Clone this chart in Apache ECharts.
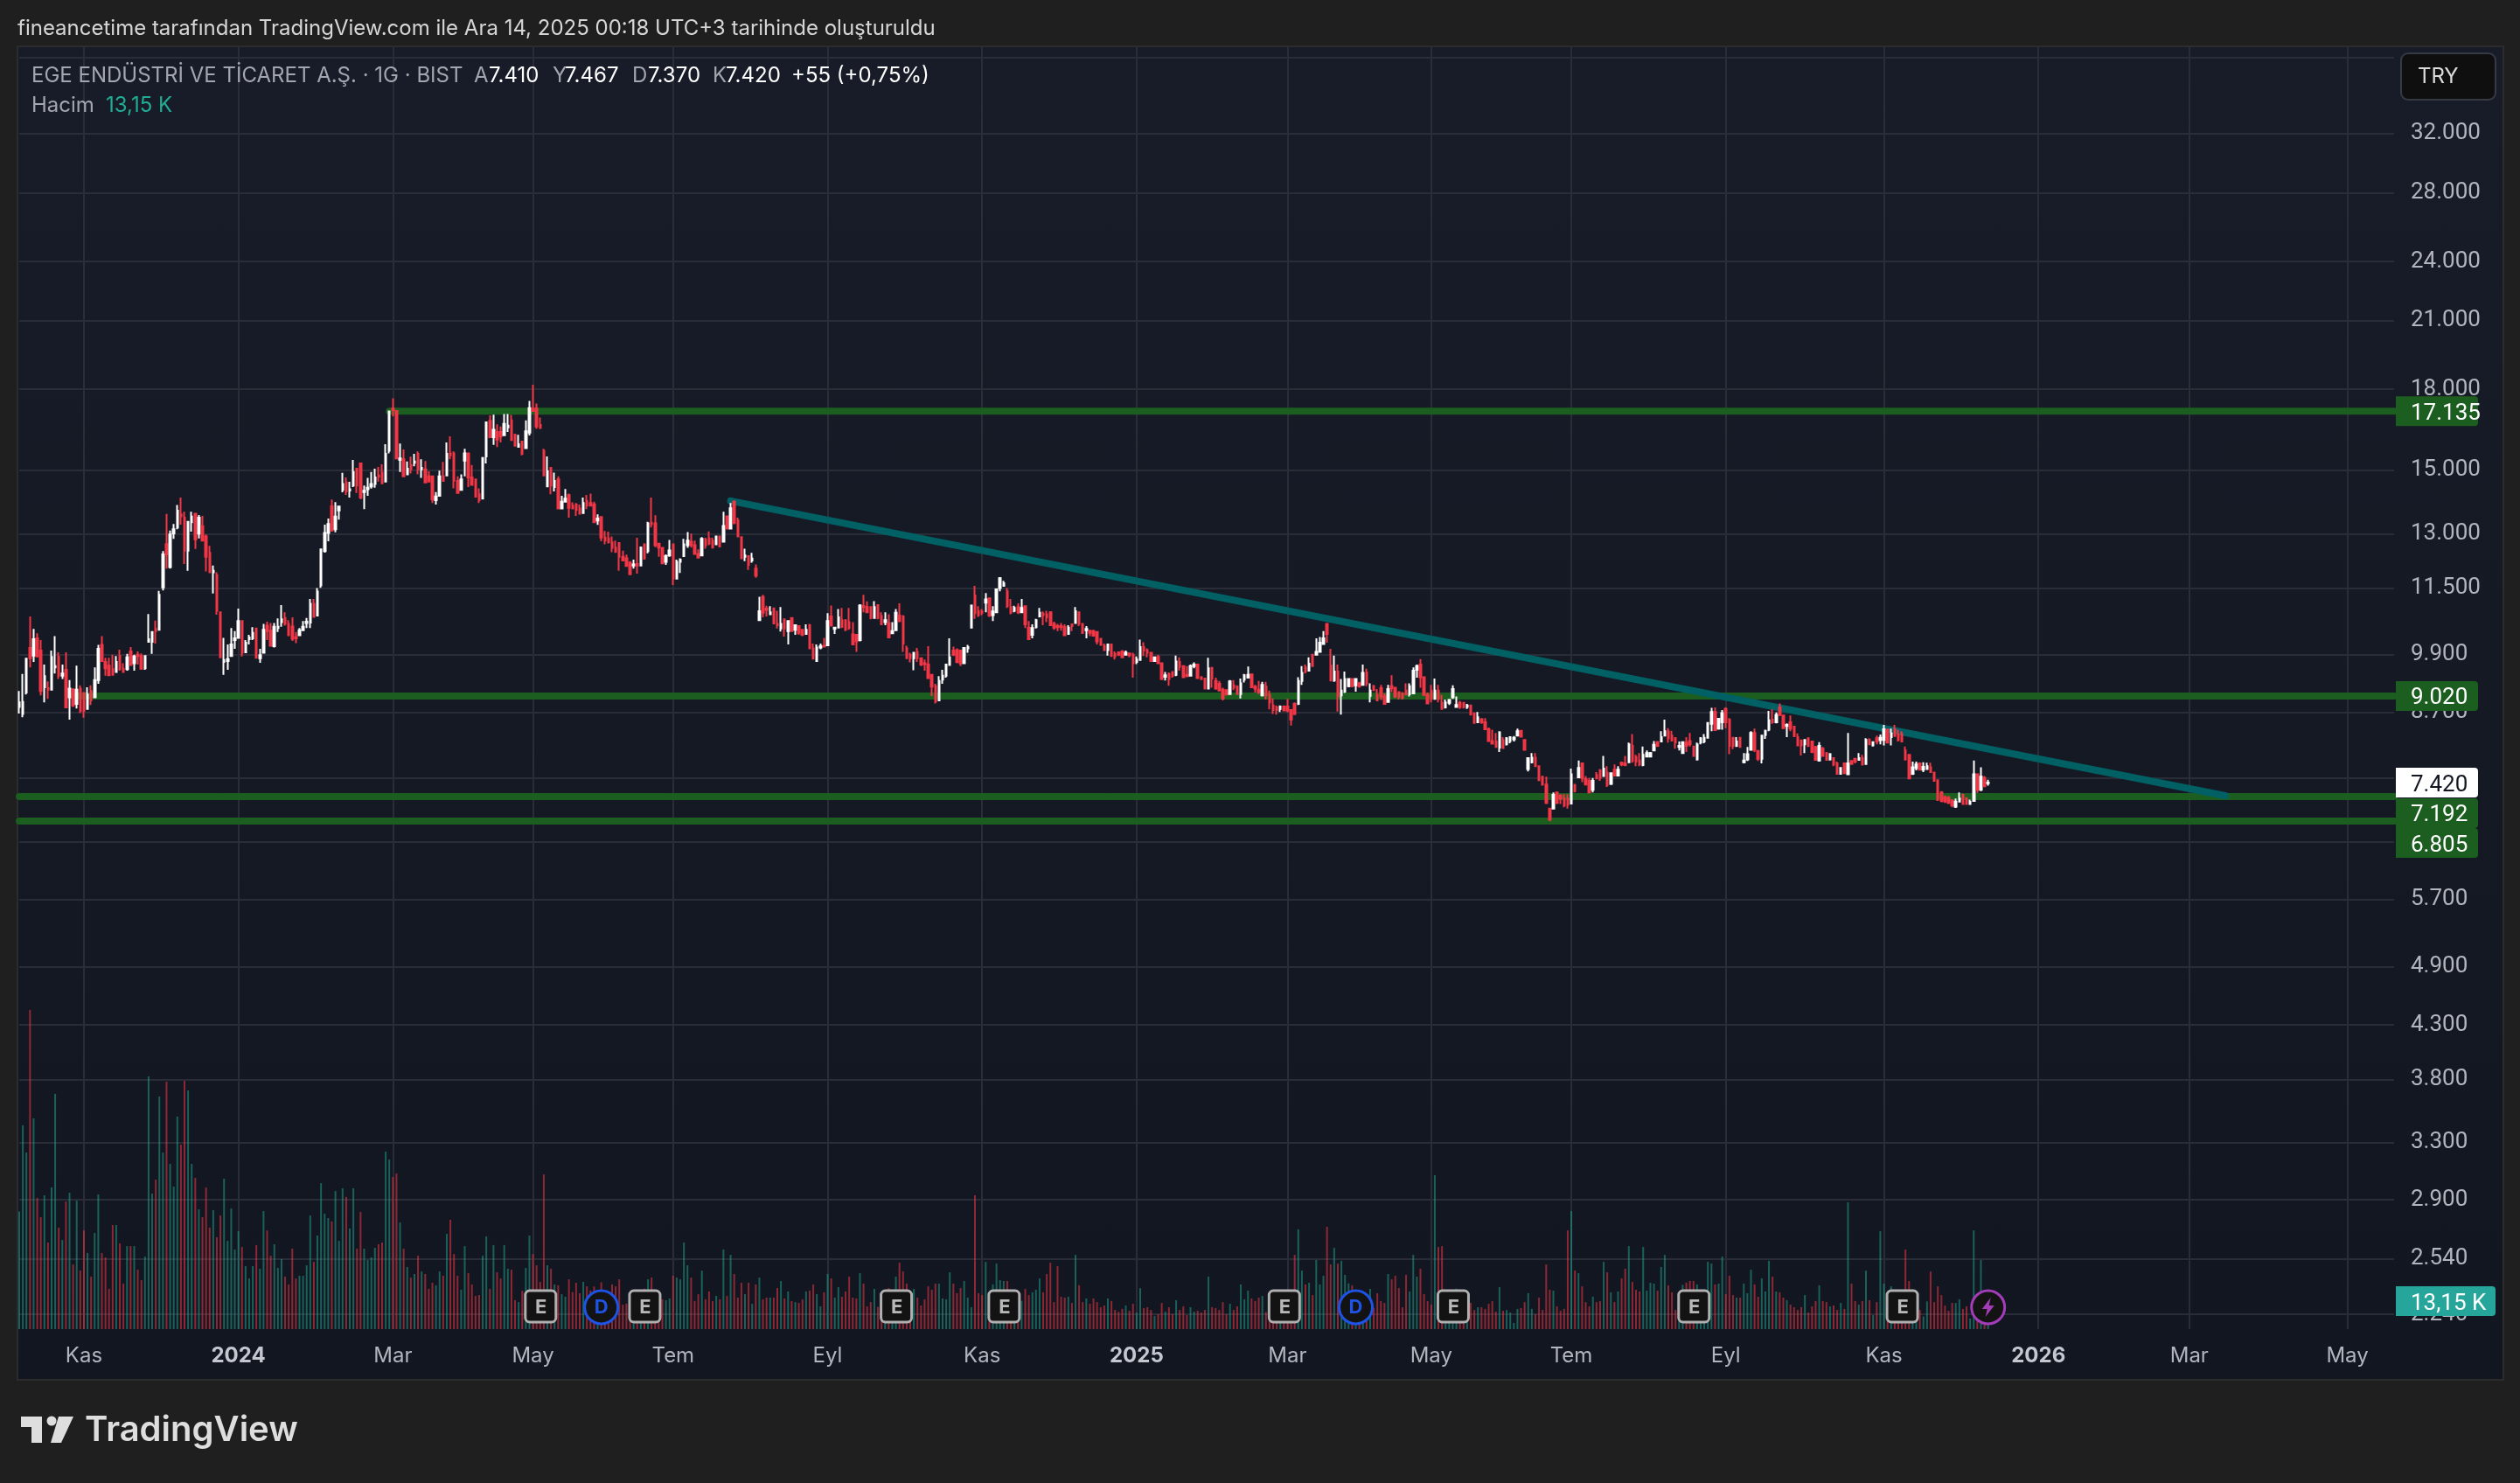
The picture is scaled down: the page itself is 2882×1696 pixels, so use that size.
<!DOCTYPE html>
<html>
<head>
<meta charset="utf-8">
<title>EGE ENDÜSTRİ</title>
<script src="https://cdn.jsdelivr.net/npm/echarts@6/dist/echarts.min.js"></script>
<style>
  html, body { margin: 0; width: 2882px; height: 1696px; background: #1f1f1f; overflow: hidden; }
  #panel { position: absolute; left: 19px; top: 52px; width: 2841px; height: 1523px; border: 2px solid #2c2c2c;
    background: linear-gradient(#181c28, #121620); }
  #chart { position: absolute; left: 0; top: 0; width: 2882px; height: 1696px; }
</style>
</head>
<body>
<div id="panel"></div>
<div id="chart"></div>
<script>
// mumlar: [acilis, kapanis, dusuk, yuksek]
const candlesA = [
[8800,8890,8670,9120],[8660,8900,8600,9480],[9090,9810,9050,9810],[10050,9820,9620,10790],[9880,10250,9740,10490],[10270,9860,9860,10390],
[9990,9120,9030,10230],[9200,9430,8890,9680],[9180,9150,8960,9320],[9150,9850,9150,9990],[9620,9650,9490,10320],[9850,9440,9370,9950],
[9440,9490,9370,9680],[9570,8790,8790,9950],[8990,9170,8550,9350],[9150,8830,8800,9180],[8860,9150,8770,9660],[9170,8720,8680,9240],
[9080,8720,8590,9080],[8760,9050,8760,9200],[9120,8930,8840,9240],[8990,9350,8990,9620],[9350,10030,9270,10120],[10120,9760,9760,10320],
[9740,9600,9440,9830],[9660,9450,9430,9830],[9580,9460,9460,9900],[9520,9740,9520,9870],[9870,9580,9550,10010],[9590,9520,9510,9710],
[9580,9840,9550,9920],[9970,9670,9670,10070],[9710,9860,9550,9900],[9900,9870,9680,9970],[9870,9590,9570,9930],[9600,9870,9570,9890],
[10190,10250,10190,10850],[10190,10420,9920,10440],[10490,10440,10150,10690],[10470,11330,10460,11430],[11520,12410,11440,12500],[12700,12410,12020,13590],
[12060,12980,12020,13090],[13010,13130,12850,13290],[13180,13690,13130,13870],[13580,13520,13270,14100],[13480,12510,12140,13660],[12510,13350,11960,13370],
[13340,13510,13060,13660],[13600,12840,12560,13620],[13000,13480,12860,13560],[13220,12800,12800,13530],[12920,12340,11940,12980],[12450,11920,11920,12650],
[11920,11960,11360,12100],[11840,10930,10830,11920],[10890,9840,9840,10890],[9740,9780,9460,10280],[9760,9800,9570,10130],[9870,10130,9860,10510],
[10230,10270,10030,10440],[10280,10680,10260,10980],[10680,9940,9860,10680],[9950,10170,9950,10230],[10250,10290,10130,10350],[10270,10400,10230,10530],
[10500,9830,9830,10510],[9820,9890,9720,10030],[9940,10470,9940,10610],[10570,10440,10230,10660],[10450,10100,10080,10630],[10090,10540,10060,10630],
[10510,10540,10420,10740],[10650,10720,10540,11070],[10750,10610,10570,10890],[10610,10340,10340,10700],[10550,10260,10210,10770],[10300,10270,10160,10420],
[10340,10460,10340,10510],[10460,10540,10460,10680],[10630,10660,10510,10750],[10640,11100,10510,11220],[11100,10780,10780,11220],[10810,11410,10810,11500],
[11570,12550,11510,12550],[12500,13020,12460,13270],[13020,13290,12780,13450],[13830,13100,13060,14040],[13130,13510,13040,13960],[13700,13820,13420,13830],
[14350,14540,14270,14910],[14590,14300,14190,14760],[14330,14370,14100,14610],[14490,14940,14440,15350],[15050,14490,14250,15050],[15230,14100,14050,15230],
[14280,14320,13740,14490],[14370,14420,14160,14740],[14460,14540,14390,14940],[14540,14760,14420,15050],[14820,14780,14620,15110],[14920,14560,14560,15200],
[14620,15560,14590,15900],[15670,17120,15580,17120],[17230,17170,16930,17640],[17140,15400,15400,17140],[15350,15400,14940,15930],[15370,14790,14790,15720],
[14860,15050,14860,15300],[15170,15030,14890,15460],[15250,15300,15130,15560],[15560,15030,14860,15650],[15030,15080,14740,15370],[15030,14590,14590,15310],
[14790,14620,14590,14960],[14790,14050,13930,14820],[14020,14140,13880,14280],[14160,14790,14130,14980],[14790,14640,14640,15280],[14820,15560,14820,15970],
[15580,15510,15370,16190],[15580,14650,14400,15650],[14640,14250,14250,14790],[14350,14690,14350,14860],[15330,15580,14790,15740],[15580,14760,14440,15580],
[14760,14510,14490,15180],[14690,14130,14130,14690],[14210,14020,13930,14400],[14070,15420,14070,15420],[15470,16710,15230,16740],[16760,16160,16160,16970],
[16160,16430,15880,17000],[16350,16070,15800,16630],[16350,16180,15970,16550],[16230,16650,16230,17020],[16520,16580,16350,17020],[16780,16050,16030,16990],
[16240,15850,15830,16280],[15810,15900,15810,16240],[16000,15560,15510,16000],[15760,16370,15760,16780],[16320,17250,16220,17530],[17230,17140,17140,18180],
[17230,16550,16460,17430],[16610,16500,16450,16890],[15670,14820,14820,15740],[14460,14960,14440,15470],[15080,14490,14210,15080],[14440,14640,14300,14920],
[14690,13760,13760,14790],[13760,13970,13760,14160],[13970,14070,13970,14380],[14180,13780,13480,14230],[13850,13760,13730,13950],[13880,13710,13530,13930],
[13760,13600,13580,13880],[13620,13930,13620,14100],[14000,13850,13740,14190],[13930,13850,13820,14230],[13880,13340,13340,13970],[13390,13450,13260,13580],
[13500,12890,12780,13520],[12890,12800,12690,13080],[12860,12750,12720,13060],[12750,12590,12470,12920],[12600,12480,12450,12800],[12730,12340,11960,12750],
[12340,12240,12220,12510],[12300,12090,12090,12400]
];
const candlesB = [
[12180,11865,11865,12220],[12100,12130,12020,12260],[12140,12100,11880,12880],[12100,12600,12100,12630],[12690,12290,12260,12710],[12500,13310,12440,13350],
[13330,13280,13180,14100],[13310,12670,12610,13550],[12710,12600,12340,12730],[12590,12160,12160,12600],[12200,12360,12120,12410],[12380,12520,12340,12820],
[12690,11750,11580,12690],[11750,12200,11730,12260],[12200,12260,11900,12300],[12360,12690,12360,12850],[12670,12800,12590,13050],[12770,12670,12600,13000],
[12670,12420,12410,12800],[12420,12320,12320,12550],[12380,12850,12380,12900],[12840,12670,12570,12880],[12860,12710,12670,13070],[12800,12600,12600,12880],
[12690,12920,12670,12920],[12920,12630,12630,12920],[12770,13230,12770,13660],[13520,13150,13130,13520],[13150,13770,13130,13930],[13980,13310,13310,13980],
[13390,12920,12920,13480],[12900,12300,12300,12920],[12340,12380,12220,12570],[12360,12120,11980,12360],[12240,12290,12180,12450],[12020,11830,11770,12130],
[10700,10920,10700,11280],[11270,10880,10770,11330],[10980,10950,10790,11050],[10840,10890,10820,11040],[10990,10620,10620,11010],[10610,10580,10500,10930],
[10500,10610,10430,11020],[10720,10500,10310,10720],[10440,10680,10130,10680],[10750,10440,10440,10750],[10470,10580,10350,10580],[10560,10400,10350,10560],
[10470,10350,10320,10470],[10370,10470,10350,10600],[10580,10040,10040,10610],[10040,9810,9790,10150],[9760,10060,9760,10130],[10060,10090,10020,10150],
[10100,10080,10070,10280],[10110,10680,10110,10870],[10790,10580,10540,11060],[10490,10520,10370,10530],[10520,10770,10510,10970],[10700,10540,10510,11000],
[10700,10470,10440,10700],[10650,10510,10470,11000],[10360,10130,10130,10650],[10350,10200,9960,10350],[10230,11060,10200,11090],[11040,11020,10890,11330],
[11020,10890,10880,11160],[11020,10750,10720,11040],[10750,11020,10750,11170],[11070,10750,10720,11090],[10800,10600,10600,10890],[10650,10700,10580,10890],
[10630,10290,10290,10840],[10390,10440,10380,10650],[10460,10880,10440,10970],[10810,10680,10650,11110],[10790,10150,9960,10820],[10040,9820,9810,10100],
[9900,9820,9730,9940],[9820,9940,9560,9940],[9960,9820,9740,10050],[9820,9680,9650,9840],[9710,9690,9550,9790],[9680,9390,9390,10090],
[9460,9210,9020,9460],[9220,8910,8870,9270],[8930,9330,8930,9430],[9360,9440,9270,9570],[9440,9680,9400,9690],[9670,9840,9660,10270],
[9990,9900,9870,10080],[10000,9740,9710,10040],[9990,9710,9650,9990],[9710,10050,9710,10050],[10040,10070,9940,10120],[10520,11060,10520,11060],
[11310,10870,10730,11560],[10920,10820,10780,11040],[10910,10880,10820,10970],[11130,11210,10890,11370],[11240,10810,10780,11240],[10820,10910,10680,11040],
[10890,11470,10890,11470],[11500,11760,11420,11790],[11560,11630,11540,11690],[11420,11040,11000,11500],[11020,10880,10840,11220],[10930,11000,10890,11050],
[11020,10890,10850,11110],[10890,11000,10880,11220],[11040,10600,10510,11050],[10520,10250,10240,10680],[10350,10510,10270,10600],[10530,10700,10500,10730],
[10790,10880,10790,11000],[10860,10820,10580,10910],[10840,10770,10650,10930],[10890,10580,10560,10920],[10610,10520,10470,10660],[10560,10530,10440,10610],
[10560,10530,10450,10630],[10530,10340,10340,10600],[10370,10520,10370,10580],[10600,10560,10440,10610],[10630,10920,10620,11020],[10890,10610,10560,10910],
[10610,10400,10370,10610],[10460,10490,10270,10560],[10450,10400,10320,10470],[10440,10330,10320,10470],[10420,10200,10130,10420],[10260,10120,10100,10270],
[10100,10000,9990,10150],[10000,10130,9880,10130],[10130,9870,9860,10150],[9920,9860,9790,9970],[9950,9900,9870,9970],[9970,9840,9840,10000],
[9900,9940,9890,9990],[9930,9890,9840,9940],[9900,9710,9400,9940],[9740,9790,9690,9860],[9780,10070,9780,10240],[10070,9990,9870,10180],
[10000,9940,9840,10040],[9940,9760,9740,9950],[9760,9840,9740,9860],[9850,9710,9710,9900],[9710,9370,9350,9730],[9420,9450,9340,9520],
[9480,9370,9230,9510],[9520,9440,9400,9520],[9460,9750,9430,9880],[9740,9630,9550,9840],[9650,9410,9400,9650],[9460,9430,9410,9650],
[9440,9650,9430,9680],[9650,9680,9600,9730],[9680,9390,9380,9680],[9410,9370,9350,9430],[9380,9170,9170,9400],[9170,9600,9170,9830],
[9610,9380,9190,9610],[9330,9170,9150,9400],[9270,9130,9120,9330],[9150,8970,8930,9190],[9140,9050,9030,9150],[9060,9320,9050,9350],
[9240,9190,9140,9350],[9210,9060,9050,9240],[9060,9280,8970,9380],[9360,9450,9300,9480],[9400,9460,9380,9640],[9470,9200,9180,9470],
[9210,9170,9090,9250],[9150,9100,9060,9330]
];
const candlesC = [
[9030,9250,9010,9310],[9210,9030,8950,9310],[9040,8890,8750,9130],[8830,8740,8660,8970],[8790,8740,8650,8830],[8760,8810,8700,8830],
[8810,8730,8720,8830],[8810,8730,8690,8960],[8740,8550,8440,8750],[8860,8660,8640,8890],[8860,9330,8840,9410],[9330,9500,9250,9650],
[9620,9530,9490,9680],[9550,9700,9550,9840],[9900,9650,9630,9900],[9900,9960,9880,10270],[9960,10170,9950,10300],[10140,10270,10140,10440],
[10610,10370,10170,10610],[9660,9340,9330,10030],[9340,9530,9310,9880],[9530,9020,8710,9680],[9030,9130,8650,9370],[9110,9370,9080,9530],
[9220,9370,9200,9370],[9370,9220,9200,9370],[9240,9370,9110,9380],[9280,9220,9190,9310],[9250,9500,9250,9680],[9510,9280,9220,9590],
[9020,9130,8890,9280],[9220,9140,9130,9250],[9040,8930,8920,9160],[9180,9010,8940,9250],[9010,8860,8850,9070],[8900,9160,8890,9250],
[9220,9180,9100,9450],[9190,9010,8980,9200],[9100,9000,8950,9100],[9070,8980,8950,9100],[9130,9050,9040,9280],[9060,9220,9010,9280],
[9070,9550,9060,9620],[9570,9650,9400,9680],[9680,9410,9190,9800],[9410,9040,9040,9410],[9040,8870,8860,9090],[9130,8960,8890,9250],
[8960,9130,8950,9380],[9130,8960,8890,9250],[8880,8760,8760,9040],[8790,8890,8770,8950],[8880,8940,8840,8960],[8990,9160,8960,9240],
[8800,8840,8780,9010],[8880,8800,8760,8920],[8880,8800,8770,8900],[8800,8830,8760,8860],[8830,8650,8640,8840],[8670,8490,8480,8690],
[8500,8600,8490,8700],[8560,8500,8470,8580],[8500,8370,8360,8580],[8370,8150,8140,8400],[8150,8100,8090,8360],[8140,8040,8040,8300],
[8030,8310,7950,8330],[8170,8020,8010,8220],[8090,8200,8070,8220],[8150,8220,8110,8230],[8180,8210,8140,8240],[8250,8330,8240,8380],
[8340,8230,8220,8350],[8170,7990,7980,8170],[7650,7840,7610,7850],[7770,7850,7750,7930],[7850,7700,7700,7930],[7700,7460,7450,7700],
[7520,7390,7370,7520],[7390,7090,7070,7520],[7000,6830,6800,7000],[7000,7220,7000,7260],[7260,7090,7070,7260],[7210,7160,7070,7230],
[7160,7050,7020,7230],[7160,7060,7000,7230],[7080,7560,7080,7660],[7380,7280,7260,7400],[7510,7670,7500,7800],[7750,7500,7430,7750],
[7480,7390,7380,7530],[7450,7260,7260,7500],[7300,7450,7260,7500],[7550,7490,7480,7600],[7630,7500,7450,7650],[7530,7660,7530,7880],
[7590,7380,7350,7700],[7400,7580,7380,7580],[7640,7540,7530,7730],[7540,7640,7530,7700],[7760,7730,7700,7780],[7750,7720,7700,7880],
[7770,8090,7760,8120],[8060,7790,7760,8280],[7860,7780,7700,7900],[7800,7730,7700,7930],[7720,7900,7700,8050],[7870,7930,7860,7980],
[7870,7930,7860,7950],[7980,8080,7980,8150],[8130,8060,8040,8150],[8140,8220,8130,8330],[8250,8330,8250,8550],[8330,8200,8120,8390],
[8250,8160,8140,8340],[8200,8120,8010,8220],[8040,8060,7980,8140],[7930,8130,7930,8140],[8120,8060,7950,8220],[8150,8090,8050,8300],
[8050,7880,7870,8060],[7820,8090,7800,8120],[8120,8200,8090,8220],[8140,8210,8110,8280],[8210,8490,8200,8500],[8470,8700,8330,8780],
[8700,8350,8340,8790],[8380,8570,8360,8580],[8500,8680,8360,8740],[8760,8500,8390,8790],[8550,8060,7910,8580],[8210,8060,8000,8210],
[8060,8140,8040,8220],[8210,8040,8040,8220],[7770,7800,7750,7930],[7820,7910,7790,8040],[7990,8300,7980,8330],[8300,7990,7950,8380],
[7970,7830,7790,7980],[7830,8250,7750,8260],[8260,8340,8190,8360],[8360,8540,8330,8720],[8550,8500,8470,8750],[8500,8640,8480,8690],
[8790,8640,8640,8870],[8630,8390,8380,8630],[8430,8450,8220,8480],[8500,8380,8330,8630],[8420,8240,8220,8430],[8220,8070,8060,8290],
[8160,8070,7890,8170],[8090,8170,7930,8180],[8200,8060,8040,8210],[8140,7950,7930,8140],[8040,7810,7800,8060],[7800,8060,7780,8130],
[8010,7880,7880,8040],[7930,7810,7800,7950],[7820,7910,7800,7930],[7840,7730,7700,7850],[7750,7570,7570,7780],[7570,7670,7570,7680],
[7750,7580,7570,7760],[7560,7750,7550,8300],[7790,7740,7730,7800],[7830,7780,7750,7840],[7810,7840,7810,7930],[7840,7730,7710,7900],
[7740,8170,7740,8200],[8170,8090,8090,8200],[8070,8130,8050,8140],[8200,8140,8090,8250],[8170,8210,8090,8270],[8170,8370,8070,8450],
[8360,8120,8110,8380],[8220,8290,8070,8380],[8370,8240,8230,8450],[8270,8170,8140,8360],[8280,8140,8130,8330],[7980,7820,7800,8050],
[7900,7490,7490,7910],[7570,7680,7550,7780],[7670,7730,7630,7780],[7750,7640,7630,7760],[7640,7690,7600,7770],[7650,7700,7650,7760],
[7680,7600,7590,7760],[7590,7450,7450,7590],[7460,7140,7120,7470],[7260,7120,7100,7280],[7180,7110,7090,7210],[7170,7090,7070,7200],
[7130,7050,7020,7140],[7030,7110,7010,7160],[7110,7160,7100,7260],[7220,7070,7060,7240],[7160,7070,7060,7180],[7070,7110,7060,7140],
[7120,7560,7120,7800],[7560,7300,7250,7570],[7300,7520,7280,7680],[7500,7360,7350,7530],[7410,7420,7370,7467]
];
// hacim, bin adet
const volumesA = [
55.3,95.8,83,150,99.1,61.7,52.6,62.9,40.7,66.6,110.6,47.7,41.9,60,64.1,30.4,60.4,27.5,46.4,35.8,24.7,45.2,63.3,35.8,33.7,18.9,48.9,48.9,40.3,21.4,
39,39,39,27.9,23,34.1,118.8,63.7,70.3,109.3,83,116.3,77.7,67,99.9,86.7,116.7,112.2,77.7,71.1,56.3,52.6,66.6,47.7,55.9,43.2,53.4,70.7,41.5,56.7,
37.4,46,38.6,29.6,23.8,29.6,39.5,28.4,55.5,46.4,34.5,39.9,28.8,32.9,24.7,21,37.8,23.8,25.1,25.1,30,53.4,31.6,44,68.6,54.3,52.2,50.6,64.9,41.5,
66.2,62.1,47.3,66.2,37.8,55.1,37.8,32.5,33.7,38.2,39.9,40.7,83.4,79.7,71.5,73.2,50.1,37.8,29.2,24.2,25.9,34.5,27.1,25.9,18.9,21.8,20.6,27.1,25.1,44.8,
51.4,35.3,25.1,18.5,39,26.3,21,15.6,16,34.5,43.6,18.9,39.5,26.7,23.8,39.5,28.4,27.9,13.6,12.7,18,28.8,44,35.3,30,22.2,72.7,30,28.4,21,
20.6,16.4,15.2,23.4,17.4,21.8,16.9,22.2,20.1,18.1,20,17,22,16,14,21,20.1,23.4,11.5,12,15,14,12,16,19,23.4,24.2,14,12,14
];
const volumesB = [
13.6,14.4,25.1,24.2,23.4,40.7,30,24.2,13.2,16.4,27.5,14,17.7,13.2,15.6,14,37.4,15.6,34.9,25.9,14.8,21.8,16.4,21.8,11.9,21,24.2,14,14.8,14.8,
14.8,19.3,22.6,14.4,17.7,13.2,12.7,12.3,14,17.7,18.1,21,16.4,10.7,17.3,25.9,23.8,14.8,19.7,15.2,17.7,24.7,14.8,14.4,26.3,21.4,10.7,12.7,18.9,10.5,
10.5,7.8,19.3,13.3,24.7,31.2,27.1,21.4,18.1,18.9,14.8,11.1,14,20.1,18.5,21.4,21.4,14.4,14,26.7,21.4,16.9,19.3,22.6,14.8,10.3,62.9,16.9,16,31.6,
16,21,30.8,23,22.6,22.6,17.4,13.3,7.8,13.3,18.9,16,17.3,18.5,23.8,17.3,25.9,31.2,12.7,29.6,15.2,14.8,15.2,12.3,34.9,20.6,12.7,14.4,11.9,14.4,
12.7,10.3,11.1,14.4,13.2,9,8.1,9.5,11.1,8.6,11.9,7.8,19.3,9.9,10.3,9,6.2,7,12.3,8.2,10.3,7,13.6,9,10.7,6.6,10.3,8.2,8.6,7.8,
9,24.7,10.3,9.9,9,12.7,7,11.9,9,10.7,21,14,18.1,14.4,13.2,14.8,15.6,8,9,7,10,9,8,10,9,34.9,46.9,27.5,21,21.8,
16,32.5,21,25.1,48.1,30.4,38.2,30.8,32.1,25.5,21.5,20.6,13.3,14.7,10.5
];
const volumesC = [
13,18.9,10,16.9,13.2,12.3,25.9,23.4,25.1,19.3,10.3,25.5,17.7,34.9,24.7,28.4,16.4,13.2,11.5,72.3,38.6,39,14,12,10,19,11,10,10,12.3,
9,10.3,10.3,9.5,11.9,13.2,8.2,19.7,8.6,9,7.8,2.9,9.5,9.9,12.7,16.9,9.5,7,14.8,9,30.4,18.5,18.1,10.7,8.6,9.5,46.4,55.5,27.5,26.3,
20.1,12.7,10.7,15.2,12.7,13.2,31.6,26.7,17.3,12.7,17.7,23.8,28.4,39,22.2,18.5,17.7,38.6,18.1,21.8,21.4,18.1,29.2,34.9,20.6,17.3,9,9,20.8,21.8,
22.6,22.6,21,13,10,31.6,30.8,21,21.4,34.1,16.4,25.1,16,14.8,14.8,21.4,16.9,27.9,21,15.2,23.8,17.7,32.1,24.7,17.7,17.3,14.8,13.6,11.5,10.3,
9,10.3,16,7.8,10.7,13.2,20.6,13.2,12.7,10.7,11.1,9,12.3,9.5,59.6,21.4,13.2,11.5,13.2,27.5,13.6,6.6,12.7,46,21.4,10,20.1,10,10,10,
37.4,22.6,10,10,9,6,13,27.1,12.7,20.1,16,11.1,8.6,12.3,12.3,14,9.5,10.7,5,46.4,8,32.5,8,13.15
];

const candles = [...candlesA, ...candlesB, ...candlesC];
const volumes = [...volumesA, ...volumesB, ...volumesC];
const barCount = 662; // sagda bos gelecek alani da dahil

const timeLabels = ['Kas','2024','Mar','May','Tem','Eyl','Kas','2025','Mar','May','Tem','Eyl','Kas','2026','Mar','May'];
const timeIndex = [18,61,104,143,182,225,268,311,353,393,432,475,519,562,604,648];

const priceTicks = [38000,32000,28000,24000,21000,18000,15000,13000,11500,9900,8700,7500,6500,5700,4900,4300,3800,3300,2900,2540,2240];
const priceTickNames = ['','32.000','28.000','24.000','21.000','18.000','15.000','13.000','11.500','9.900','8.700','','','5.700','4.900','4.300','3.800','3.300','2.900','2.540','2.240'];

const supportLevels = [17135, 9020, 7192, 6805];
const supportStarts = [103, 15, 0, 0];
const trendPrices = [13995, 7205];
const trendIndex = [198, 614];

const earningsIndex = [145, 174, 244, 274, 352, 399, 466, 524];
const dividendIndex = [162, 372];
const lastEventIndex = 548;

const chart = echarts.init(document.getElementById('chart'));
const FONT = 'Inter';
const PRICE_FONT = 'Roboto'; // rakamlari esit genislikte
const categories = Array.from({ length: barCount }, (_, i) => i);

function isTimeTick(i) { return timeIndex.includes(i); }

const levelSeries = supportLevels.map((price, i) => ({
  type: 'line', z: 2, silent: true, symbol: 'none', animation: false,
  lineStyle: { color: '#1b5e20', width: 8, cap: 'round' },
  data: [[supportStarts[i], price], [barCount - 1, price]]
}));

chart.setOption({
  animation: false,
  backgroundColor: 'transparent',
  textStyle: { fontFamily: FONT },
  grid: { left: 22, right: 144, top: 53, bottom: 176 },
  xAxis: {
    type: 'category', data: categories, boundaryGap: false,
    axisLine: { show: false }, axisTick: { show: false },
    axisLabel: {
      interval: (i) => isTimeTick(i), margin: 19, fontFamily: FONT, fontSize: 24, color: '#b2b5be', hideOverlap: false,
      formatter: (val) => {
        const t = timeLabels[timeIndex.indexOf(Number(val))];
        return /^\d+$/.test(t) ? '{year|' + t + '}' : t;
      },
      rich: { year: { fontFamily: FONT, fontSize: 24, fontWeight: 700, color: '#c4c6d0' } }
    },
    splitLine: { show: true, interval: (i) => isTimeTick(i), lineStyle: { color: '#2a2d38', width: 2 } }
  },
  yAxis: [
    { type: 'log', min: 2167, max: 38966, axisLine: { show: false }, axisTick: { show: false }, axisLabel: { show: false }, splitLine: { show: false } },
    { type: 'value', min: 0, max: 603, show: false, splitLine: { show: false } }
  ],
  series: [
    {
      type: 'bar', yAxisIndex: 1, z: 2, barWidth: 2, silent: true,
      data: volumes.map((v, i) => ({
        value: v,
        itemStyle: { color: candles[i] && candles[i][1] >= candles[i][0] ? 'rgba(34,171,148,0.5)' : 'rgba(242,54,69,0.55)' }
      }))
    },
    ...levelSeries,
    {
      type: 'line', z: 2, silent: true, symbol: 'none',
      lineStyle: { color: '#006064', width: 8, cap: 'round' },
      data: [[trendIndex[0], trendPrices[0]], [trendIndex[1], trendPrices[1]]]
    },
    {
      type: 'candlestick', z: 3, barWidth: 2, silent: true,
      itemStyle: { color: '#ffffff', color0: '#f23645', borderColor: '#ffffff', borderColor0: '#f23645', borderWidth: 2 },
      data: candles,
      markLine: {
        z: 1, silent: true, symbol: 'none', animation: false,
        lineStyle: { color: '#2a2d38', width: 2, type: 'solid' },
        label: { position: 'end', distance: 19, formatter: '{b}', color: '#b2b5be', fontFamily: PRICE_FONT, fontSize: 26, padding: [10, 0, 0, 0] },
        data: priceTicks.map((v, i) => ({ yAxis: v, name: priceTickNames[i] }))
      }
    }
  ]
});

// fiyat etiketleri ve olay rozetleri, olculeri eksenden aliyor
function priceY(price) { return chart.convertToPixel({ yAxisIndex: 0, xAxisIndex: 0 }, [0, price])[1]; }
function barX(i) { return chart.convertToPixel({ yAxisIndex: 0, xAxisIndex: 0 }, [i, 10000])[0]; }

const elements = [];
function addText(text, x, y, color, size, weight, align, family) {
  elements.push({ type: 'text', z: 100, x, y, style: { text, fill: color, fontFamily: family || FONT, fontSize: size, fontWeight: weight || 400, align: align || 'left', verticalAlign: 'middle' } });
}
function addTag(text, cy, bg, fg, w) {
  elements.push({ type: 'rect', z: 90, shape: { x: 2740, y: cy - 17, width: w || 94, height: 34, r: [0, 4, 4, 0] }, style: { fill: bg } });
  addText(text, 2757, cy + 3, fg, 26, 400, 'left', PRICE_FONT);
}

addText('fineancetime tarafından TradingView.com ile Ara 14, 2025 00:18 UTC+3 tarihinde oluşturuldu', 20, 33, '#d6d6d6', 24);
addText('EGE ENDÜSTRİ VE TİCARET A.Ş. · 1G · BIST', 36, 87, '#a3a6af', 24);
[['A',542],['Y',632],['D',723],['K',815]].forEach(p => addText(p[0], p[1], 87, '#a3a6af', 24));
[['7.410',559],['7.467',646],['7.370',741],['7.420',830],['+55 (+0,75%)',905]].forEach(p => addText(p[0], p[1], 87, '#ffffff', 24));
addText('Hacim', 36, 121, '#a3a6af', 24);
addText('13,15 K', 121, 121, '#22ab94', 24);

elements.push({ type: 'rect', z: 90, shape: { x: 2746, y: 61, width: 108, height: 53, r: 8 }, style: { fill: '#0f0f0f', stroke: '#363a45', lineWidth: 2 } });
addText('TRY', 2765, 88, '#dbdbdb', 24);

addTag('17.135', priceY(17135), '#1b5e20', '#ffffff');
addTag('9.020', priceY(9020), '#1b5e20', '#ffffff');
addTag('7.420', priceY(7420), '#ffffff', '#131722');
addTag('7.192', priceY(7192) + 19, '#1b5e20', '#ffffff');
addTag('6.805', priceY(6805) + 25, '#1b5e20', '#ffffff');
addTag('13,15 K', 1488, '#26a69a', '#ffffff', 114);

earningsIndex.forEach(i => {
  const x = barX(i);
  elements.push({ type: 'rect', z: 80, shape: { x: x - 17, y: 1476, width: 35, height: 36, r: 5 }, style: { fill: '#131313', stroke: '#b0b0b0', lineWidth: 3 } });
  addText('E', x + 1, 1495, '#b8b8b8', 22, 700, 'center');
});
dividendIndex.forEach(i => {
  const x = barX(i);
  elements.push({ type: 'circle', z: 80, shape: { cx: x, cy: 1495, r: 19 }, style: { fill: '#131313', stroke: '#1e53e5', lineWidth: 3 } });
  addText('D', x, 1495, '#1e53e5', 22, 700, 'center');
});
const boltX = barX(lastEventIndex);
elements.push({ type: 'circle', z: 80, shape: { cx: boltX, cy: 1495, r: 19 }, style: { fill: '#131313', stroke: '#a23cb8', lineWidth: 3 } });
elements.push({ type: 'polygon', z: 81, x: boltX, y: 1495, shape: { points: [[3, -11], [-7, 2], [-1, 2], [-3, 11], [7, -2], [1, -2]] }, style: { fill: '#a23cb8' } });

// TradingView logosu
elements.push({ type: 'rect', z: 80, shape: { x: 24, y: 1620, width: 24, height: 12 }, style: { fill: '#dedede' } });
elements.push({ type: 'rect', z: 80, shape: { x: 36, y: 1620, width: 12, height: 30 }, style: { fill: '#dedede' } });
elements.push({ type: 'circle', z: 80, shape: { cx: 59, cy: 1625, r: 5.5 }, style: { fill: '#dedede' } });
elements.push({ type: 'polygon', z: 80, shape: { points: [[67, 1620], [84, 1620], [70, 1650], [58, 1650]] }, style: { fill: '#dedede' } });
addText('TradingView', 97, 1636, '#dedede', 40, 600);

chart.setOption({ graphic: { elements } });
</script>
</body>
</html>
